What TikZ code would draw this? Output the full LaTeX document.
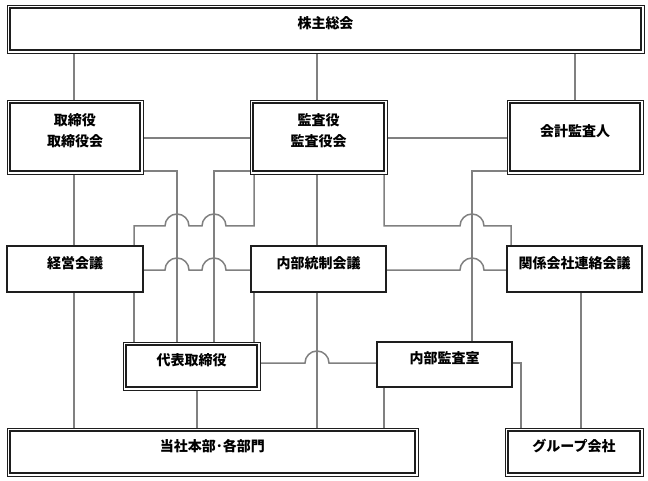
\documentclass[tikz,border=0pt]{standalone}
\usepackage{fontspec}
\newfontfamily\jp{Noto Sans CJK JP}
\usetikzlibrary{fit,calc,backgrounds}
\definecolor{conncol}{RGB}{128,128,128}
\definecolor{boxcol}{RGB}{30,30,30}
\begin{document}
\begin{tikzpicture}[x=1pt,y=-1pt,
  conn/.style={draw=conncol, line width=1.5pt},
  box/.style={draw=boxcol, line width=1.3pt, fill=white, inner sep=0pt,
    font=\jp\bfseries\fontsize{14}{21}\selectfont, align=center},
  dbox/.style={box, line width=0.8pt},
  hop/.style={}]
\useasboundingbox (0,0) rectangle (648,481);
% boxes
\node[dbox, fit={(7,5) (644,53)}] (kabu) {株主総会};
\node[dbox, fit={(7,100) (143,174)}] (tori) {取締役\\取締役会};
\node[dbox, fit={(250,100) (387,174)}] (kansa) {監査役\\監査役会};
\node[dbox, fit={(507,100) (643,174)}] (kaikei) {会計監査人};
\node[box, fit={(7,246) (143,292)}] (keiei) {経営会議};
\node[box, fit={(251,246) (386,292)}] (naibu) {内部統制会議};
\node[box, fit={(507,246) (642,292)}] (kankei) {関係会社連絡会議};
\node[dbox, fit={(123,342) (260,390)}] (daihyo) {代表取締役};
\node[box, fit={(377,342) (512,387)}] (kansashitsu) {内部監査室};
\node[dbox, fit={(7,428) (418,476)}] (honbu) {当社本部･各部門};
\node[dbox, fit={(505,428) (643,476)}] (group) {グループ会社};
\foreach \n in {kabu,tori,kansa,kaikei,daihyo,honbu,group}
  \draw[draw=boxcol, line width=1.7pt] ([shift={(3.2,3.2)}]\n.north west) rectangle ([shift={(-3.2,-3.2)}]\n.south east);
% guide coordinates
\coordinate (x74) at (74,0);
\coordinate (x134) at (134,0);
\coordinate (x177) at (177,0);
\coordinate (x197) at (197,0);
\coordinate (x214) at (214,0);
\coordinate (x254) at (254,0);
\coordinate (x317) at (317,0);
\coordinate (x384) at (384,0);
\coordinate (x472) at (472,0);
\coordinate (x511) at (511,0);
\coordinate (x521) at (521,0);
\coordinate (x575) at (575,0);
\coordinate (x581) at (581,0);
\coordinate (y138) at (0,138);
\coordinate (y171) at (0,171);
\coordinate (y226) at (0,226);
\coordinate (y270) at (0,270);
\coordinate (y363) at (0,363);
\begin{scope}[on background layer]
\draw[conn] (x74 |- kabu.south) -- (x74 |- tori.north);
\draw[conn] (x317 |- kabu.south) -- (x317 |- kansa.north);
\draw[conn] (x575 |- kabu.south) -- (x575 |- kaikei.north);
\draw[conn] (tori.east |- y138) -- (kansa.west |- y138);
\draw[conn] (kansa.east |- y138) -- (kaikei.west |- y138);
\draw[conn] (tori.east |- y171) -- (x177 |- y171) -- (x177 |- daihyo.north);
\draw[conn] (kansa.west |- y171) -- (x214 |- y171) -- (x214 |- daihyo.north);
\draw[conn] (x134 |- keiei.north) -- (x134 |- y226)
  -- ($(x177 |- y226)+(-12,0)$) arc[start angle=180,end angle=0,radius=12pt]
  -- ($(x214 |- y226)+(-12,0)$) arc[start angle=180,end angle=0,radius=12pt]
  -- (x254 |- y226) -- (x254 |- kansa.south);
\draw[conn] (x384 |- kansa.south) -- (x384 |- y226)
  -- ($(x472 |- y226)+(-12,0)$) arc[start angle=180,end angle=0,radius=12pt]
  -- (x511 |- y226) -- (x511 |- kankei.north);
\draw[conn] (kaikei.west |- y171) -- (x472 |- y171) -- (x472 |- kansashitsu.north);
\draw[conn] (keiei.east |- y270)
  -- ($(x177 |- y270)+(-12,0)$) arc[start angle=180,end angle=0,radius=12pt]
  -- ($(x214 |- y270)+(-12,0)$) arc[start angle=180,end angle=0,radius=12pt]
  -- (naibu.west |- y270);
\draw[conn] (naibu.east |- y270)
  -- ($(x472 |- y270)+(-12,0)$) arc[start angle=180,end angle=0,radius=12pt]
  -- (kankei.west |- y270);
\draw[conn] (x74 |- tori.south) -- (x74 |- keiei.north);
\draw[conn] (x74 |- keiei.south) -- (x74 |- honbu.north);
\draw[conn] (x317 |- kansa.south) -- (x317 |- naibu.north);
\draw[conn] (x317 |- naibu.south) -- (x317 |- honbu.north);
\draw[conn] (x134 |- keiei.south) -- (x134 |- daihyo.north);
\draw[conn] (x254 |- naibu.south) -- (x254 |- daihyo.north);
\draw[conn] (daihyo.east |- y363)
  -- ($(x317 |- y363)+(-12,0)$) arc[start angle=180,end angle=0,radius=12pt]
  -- (kansashitsu.west |- y363);
\draw[conn] (x197 |- daihyo.south) -- (x197 |- honbu.north);
\draw[conn] (x384 |- kansashitsu.south) -- (x384 |- honbu.north);
\draw[conn] (kansashitsu.east |- y363) -- (x521 |- y363) -- (x521 |- group.north);
\draw[conn] (x581 |- kankei.south) -- (x581 |- group.north);
\end{scope}
\end{tikzpicture}
\end{document}
